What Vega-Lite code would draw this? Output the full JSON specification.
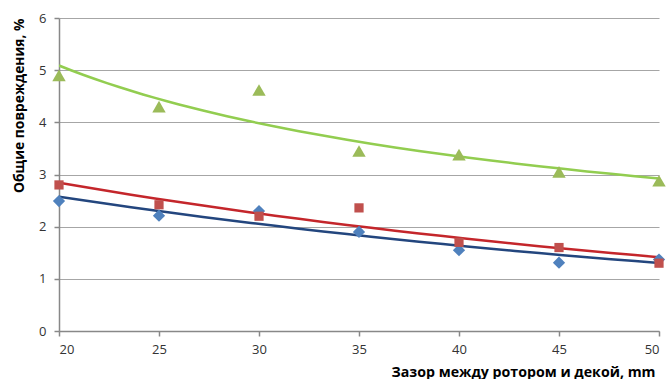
{
  "$schema": "https://vega.github.io/schema/vega-lite/v6.json",
  "width": 600,
  "height": 313,
  "autosize": {"type": "none"},
  "padding": {"left": 59, "top": 18, "right": 9, "bottom": 48},
  "background": "white",
  "config": {
    "view": {"stroke": null},
    "font": "Open Sans"
  },
  "data": {
    "values": [
      {"series": "A", "x": 20, "y": 2.49},
      {"series": "A", "x": 25, "y": 2.21},
      {"series": "A", "x": 30, "y": 2.3},
      {"series": "A", "x": 35, "y": 1.9},
      {"series": "A", "x": 40, "y": 1.55},
      {"series": "A", "x": 45, "y": 1.31},
      {"series": "A", "x": 50, "y": 1.37},
      {"series": "B", "x": 20, "y": 2.8},
      {"series": "B", "x": 25, "y": 2.42},
      {"series": "B", "x": 30, "y": 2.2},
      {"series": "B", "x": 35, "y": 2.36},
      {"series": "B", "x": 40, "y": 1.7},
      {"series": "B", "x": 45, "y": 1.6},
      {"series": "B", "x": 50, "y": 1.3},
      {"series": "C", "x": 20, "y": 4.9},
      {"series": "C", "x": 25, "y": 4.3},
      {"series": "C", "x": 30, "y": 4.62},
      {"series": "C", "x": 35, "y": 3.45},
      {"series": "C", "x": 40, "y": 3.38},
      {"series": "C", "x": 45, "y": 3.05},
      {"series": "C", "x": 50, "y": 2.88}
    ]
  },
  "encoding": {
    "x": {
      "field": "x", "type": "quantitative",
      "scale": {"domain": [20, 50], "nice": false, "zero": false},
      "axis": {
        "values": [20, 25, 30, 35, 40, 45, 50],
        "title": "Зазор между ротором и декой, mm",
        "titleFont": "Open Sans", "titleFontWeight": "bold", "titleFontSize": 14.2, "titleColor": "#000000",
        "titleAlign": "right", "titleAnchor": null, "titleX": 596, "titleY": 41, "titleBaseline": "middle",
        "labelFont": "Open Sans", "labelFontSize": 13, "labelColor": "#333333", "labelPadding": 7,
        "domainColor": "#888888", "domainWidth": 1.5, "tickColor": "#888888", "tickWidth": 1.5, "tickSize": 5,
        "grid": false
      }
    },
    "y": {
      "field": "y", "type": "quantitative",
      "scale": {"domain": [0, 6], "nice": false},
      "axis": {
        "values": [0, 1, 2, 3, 4, 5, 6],
        "title": "Общие повреждения,  %",
        "titleFont": "Open Sans", "titleFontWeight": "bold", "titleFontSize": 13.8, "titleColor": "#000000",
        "titleAngle": 270, "titleAlign": "right", "titleAnchor": null, "titleX": -40, "titleY": 0, "titleBaseline": "middle",
        "labelFont": "Open Sans", "labelFontSize": 13, "labelColor": "#333333", "labelPadding": 8,
        "domainColor": "#888888", "domainWidth": 1.5, "tickColor": "#888888", "tickWidth": 1.5, "tickSize": 5,
        "grid": true, "gridColor": "#A6A6A6", "gridWidth": 1.2
      }
    }
  },
  "layer": [
    {
      "transform": [
        {"filter": "datum.series !== 'C'"},
        {"regression": "y", "on": "x", "groupby": ["series"], "method": "exp", "extent": [20, 50]}
      ],
      "mark": {"type": "line", "strokeWidth": 2.5, "clip": true},
      "encoding": {
        "color": {
          "field": "series", "type": "nominal",
          "scale": {"domain": ["A", "B", "C"], "range": ["#23467E", "#C4262B", "#92CD50"]},
          "legend": null
        }
      }
    },
    {
      "transform": [
        {"filter": "datum.series === 'C'"},
        {"regression": "y", "on": "x", "groupby": ["series"], "method": "pow", "extent": [20, 50]}
      ],
      "mark": {"type": "line", "strokeWidth": 2.5, "clip": true},
      "encoding": {
        "color": {
          "field": "series", "type": "nominal",
          "scale": {"domain": ["A", "B", "C"], "range": ["#23467E", "#C4262B", "#92CD50"]},
          "legend": null
        }
      }
    },
    {
      "transform": [{"filter": "datum.series === 'A'"}],
      "mark": {"type": "point", "shape": "diamond", "size": 150, "filled": true, "opacity": 1, "color": "#4F81BD"}
    },
    {
      "transform": [{"filter": "datum.series === 'B'"}],
      "mark": {"type": "point", "shape": "square", "size": 85, "filled": true, "opacity": 1, "color": "#C0504D"}
    },
    {
      "transform": [{"filter": "datum.series === 'C'"}],
      "mark": {"type": "point", "shape": "triangle-up", "size": 180, "filled": true, "opacity": 1, "color": "#9BBB59"}
    }
  ]
}
